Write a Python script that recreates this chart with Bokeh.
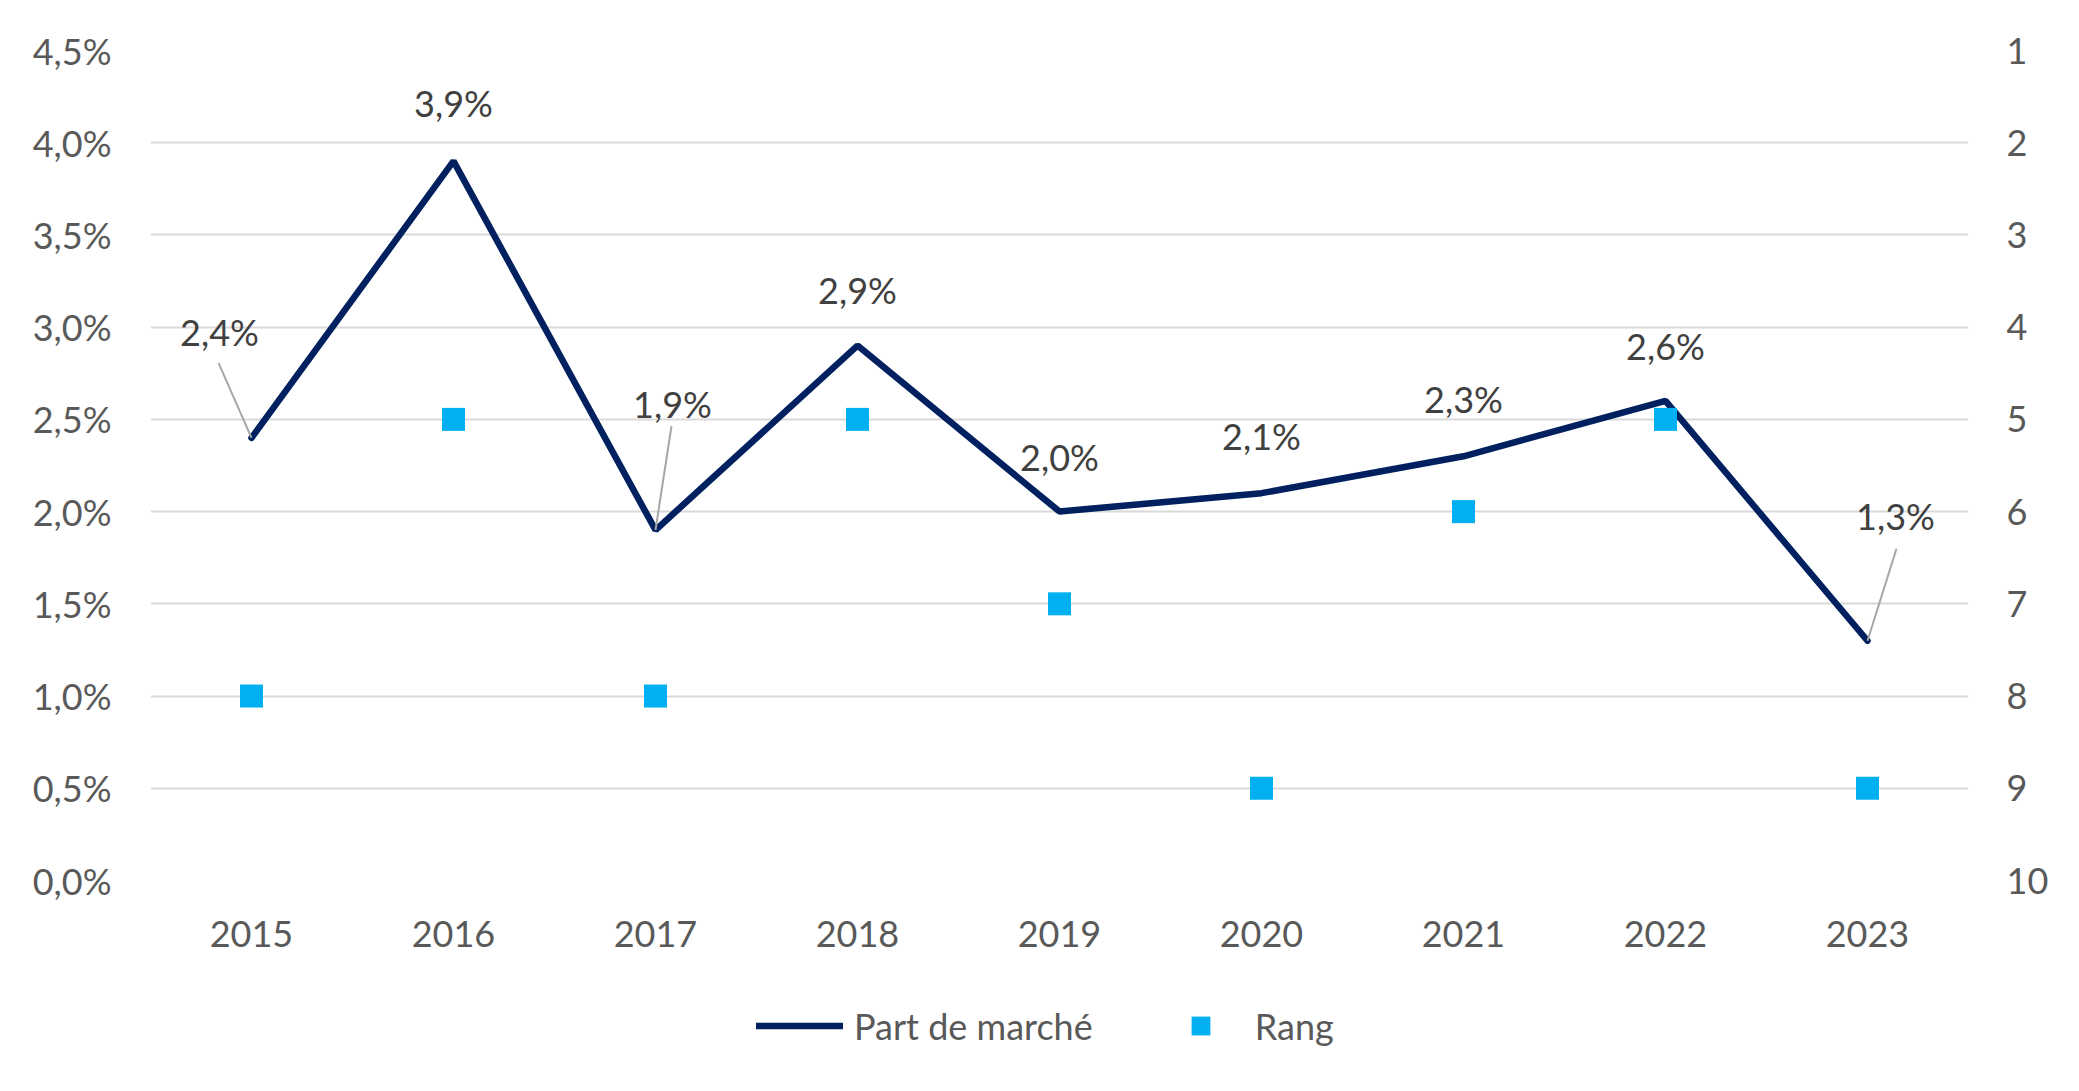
from bokeh.plotting import figure
from bokeh.layouts import column
from bokeh.models import (Range1d, LinearAxis, FixedTicker, CustomJSTickFormatter,
                          ColumnDataSource, Legend, LegendItem)
from bokeh.core.properties import value
from bokeh.embed import file_html
from bokeh.resources import INLINE

# ---- data ----
years = ["2015", "2016", "2017", "2018", "2019", "2020", "2021", "2022", "2023"]
part_de_marche = [2.4, 3.9, 1.9, 2.9, 2.0, 2.1, 2.3, 2.6, 1.3]
rang = [8, 5, 8, 5, 7, 9, 6, 5, 9]
labels = ["2,4%", "3,9%", "1,9%", "2,9%", "2,0%", "2,1%", "2,3%", "2,6%", "1,3%"]
series_names = ["Part de marché", "Rang"]

# ---- styling (label offsets in screen pixels) ----
label_dx = [-32, 0, 17, 0, 0, 0, 0, 0, 28]
label_dy = [-106, -58, -126, -56, -55, -57, -57, -55, -125]
# leader lines (pixel offset of leader start relative to point), only for some labels
leader_idx = [0, 2, 8]
leader_dx = [-33, 16, 29]
leader_dy = [-75, -104, -92]

FONT = "Lato"
LINE_COLOR = "#002060"
SQ_COLOR = "#00b0f0"
W = 2071
H1, H2 = 970, 113
ML, MR, MT, MB = 150, 103, 50, 90
frame_w = W - ML - MR
frame_h = H1 - MT - MB

x = [i + 0.5 for i in range(len(years))]

p = figure(width=W, height=H1, x_range=Range1d(0, len(years)), y_range=Range1d(0, 4.5),
           output_backend="svg", toolbar_location=None,
           min_border_left=ML, min_border_right=MR, min_border_top=MT, min_border_bottom=MB)
p.outline_line_color = None
p.background_fill_color = "white"
p.border_fill_color = "white"

p.extra_y_ranges = {"rank": Range1d(10, 1)}

# grid
p.xgrid.grid_line_color = None
p.ygrid.grid_line_color = "#d9d9d9"
p.ygrid.grid_line_width = 2
p.ygrid.ticker = FixedTicker(ticks=[i * 0.5 for i in range(10)])

def style_axis(ax):
    ax.axis_line_color = None
    ax.major_tick_line_color = None
    ax.minor_tick_line_color = None
    ax.major_label_text_font = FONT
    ax.major_label_text_font_size = "36px"
    ax.major_label_text_color = "#595959"
    ax.major_label_standoff = 33

# left axis
yl = p.yaxis[0]
yl.ticker = FixedTicker(ticks=[i * 0.5 for i in range(10)])
yl.formatter = CustomJSTickFormatter(code="return tick.toFixed(1).replace('.', ',') + '%';")
style_axis(yl)

# right axis
yr = LinearAxis(y_range_name="rank", ticker=FixedTicker(ticks=list(range(1, 11))))
style_axis(yr)
yr.major_label_standoff = 32
p.add_layout(yr, "right")

# x axis
xa = p.xaxis[0]
xa.ticker = FixedTicker(ticks=x)
xa.formatter = CustomJSTickFormatter(args=dict(years=years),
                                     code="return years[Math.floor(tick)];")
style_axis(xa)
xa.major_label_standoff = 34

# series
src = ColumnDataSource(dict(x=x, y=part_de_marche, r=rang, lbl=labels, dx=label_dx, dy=label_dy))
p.line("x", "y", source=src, line_color=LINE_COLOR, line_width=6.5, line_cap="round")
p.scatter("x", "r", source=src, y_range_name="rank", marker="square", size=23,
          fill_color=SQ_COLOR, line_color=None)

# leader lines (converted from pixel offsets to data units)
px_x = len(years) / frame_w
px_y = 4.5 / frame_h
lx0 = [x[i] + d * px_x for i, d in zip(leader_idx, leader_dx)]
ly0 = [part_de_marche[i] - d * px_y for i, d in zip(leader_idx, leader_dy)]
lx1 = [x[i] for i in leader_idx]
ly1 = [part_de_marche[i] for i in leader_idx]
p.segment(x0=lx0, y0=ly0, x1=lx1, y1=ly1, line_color="#a6a6a6", line_width=2)

# data labels
p.text("x", "y", text="lbl", source=src, x_offset="dx", y_offset="dy",
       text_font=value(FONT), text_font_size="36px", text_color="#404040",
       text_align="center", text_baseline="middle")

# ---- legend strip (separate figure below the chart) ----
# same series drawn again, but all outside this strip's visible ranges: only the legend shows
q = figure(width=W, height=H2, x_range=Range1d(0, 1), y_range=Range1d(0, 1),
           output_backend="svg", toolbar_location=None,
           x_axis_location=None, y_axis_location=None,
           min_border_left=ML, min_border_right=MR, min_border_top=0, min_border_bottom=0)
q.outline_line_color = None
q.grid.visible = False
lr = q.line("x", "y", source=src, line_color=LINE_COLOR, line_width=6.5, line_cap="round")
sr = q.scatter("x", "r", source=src, marker="square", size=23,
               fill_color=SQ_COLOR, line_color=None)
legend = Legend(items=[LegendItem(label=series_names[0], renderers=[lr]),
                       LegendItem(label=series_names[1], renderers=[sr])],
                orientation="horizontal", location=(606, 34),
                glyph_width=87, glyph_height=47, label_height=47,
                label_standoff=11, spacing=64, padding=0, margin=0,
                border_line_color=None, background_fill_alpha=0,
                label_text_font=FONT, label_text_font_size="36px",
                label_text_color="#595959")
q.add_layout(legend, "center")

layout = column(p, q, spacing=0)
open("out.html", "w").write(file_html(layout, INLINE))
